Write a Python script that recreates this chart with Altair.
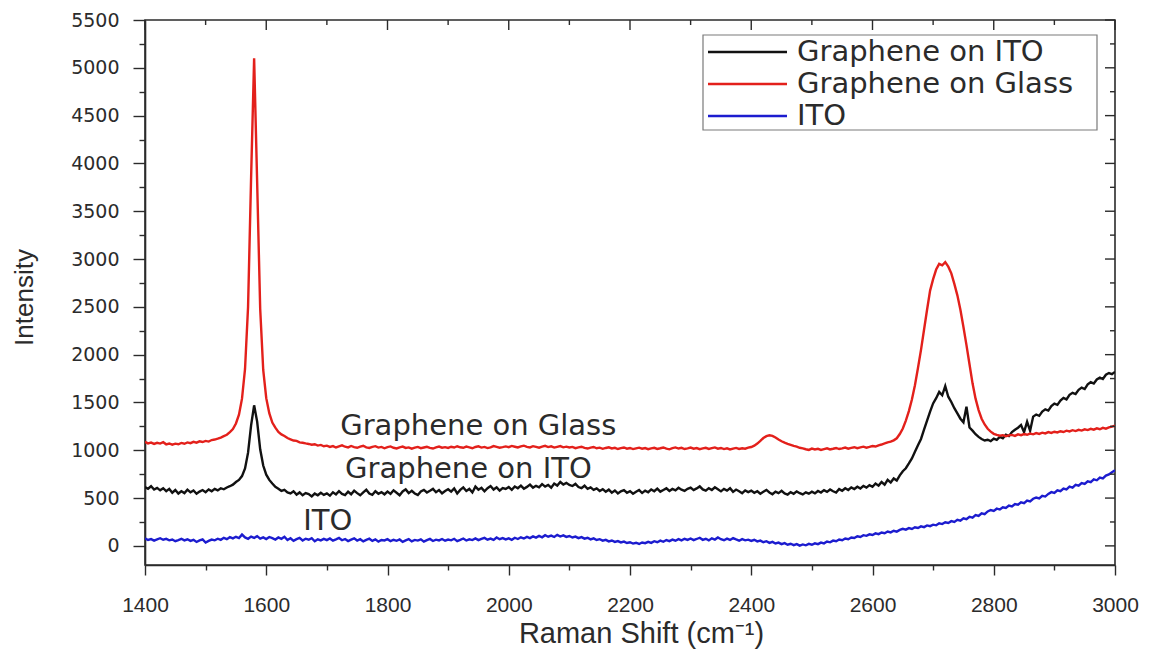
import altair as alt
import pandas as pd

# Raman shift grid (cm^-1), one reading every 5 cm^-1
raman_shift = list(range(1400, 3001, 5))

graphene_on_ito = (
    [615, 598, 624, 590, 607, 581, 603, 572, 596, 556, 584, 547, 571, 552, 588, 560, 579, 545, 568, 584]      # 1400
    + [562, 590, 571, 596, 580, 603, 592, 611, 624, 640, 668, 690, 730, 810, 975, 1260, 1470, 1300, 1010, 840]  # 1500
    + [745, 690, 652, 617, 598, 574, 586, 560, 548, 571, 536, 559, 529, 552, 541, 518, 547, 530, 556, 533]    # 1600
    + [549, 525, 561, 538, 572, 544, 531, 566, 540, 578, 552, 529, 560, 587, 548, 534, 571, 545, 562, 539]    # 1700
    + [568, 544, 581, 556, 530, 569, 591, 552, 575, 548, 533, 570, 586, 559, 577, 596, 561, 583, 550, 574]    # 1800
    + [592, 567, 601, 548, 585, 612, 574, 596, 559, 620, 588, 607, 571, 603, 626, 589, 612, 578, 604, 595]    # 1900
    + [615, 586, 621, 603, 630, 598, 617, 641, 609, 628, 612, 646, 620, 637, 608, 652, 631, 668, 642, 659]    # 2000
    + [637, 626, 648, 615, 603, 629, 596, 612, 585, 601, 574, 593, 566, 588, 557, 579, 548, 571, 583, 556]    # 2100
    + [572, 545, 566, 584, 553, 578, 561, 590, 572, 599, 567, 585, 602, 574, 596, 581, 608, 588, 575, 597]    # 2200
    + [610, 583, 601, 622, 590, 577, 604, 585, 612, 591, 570, 596, 578, 603, 565, 589, 572, 551, 580, 563]    # 2300
    + [578, 555, 571, 546, 566, 585, 559, 540, 568, 552, 575, 548, 537, 562, 545, 570, 551, 538, 560, 546]    # 2400
    + [566, 549, 574, 558, 583, 565, 590, 571, 557, 594, 577, 603, 585, 612, 595, 618, 600, 627, 609, 635]    # 2500
    + [618, 652, 630, 668, 641, 690, 662, 705, 683, 738, 781, 812, 862, 915, 984, 1052, 1118, 1215, 1310, 1405]  # 2600
    + [1490, 1545, 1610, 1575, 1672, 1560, 1505, 1440, 1385, 1330, 1292, 1455, 1238, 1205, 1168, 1140, 1118, 1102, 1110, 1095]  # 2700
    + [1122, 1108, 1139, 1126, 1162, 1148, 1190, 1214, 1236, 1265, 1190, 1298, 1205, 1352, 1374, 1360, 1405, 1428, 1415, 1462]  # 2800
    + [1488, 1475, 1520, 1548, 1532, 1580, 1601, 1588, 1632, 1655, 1640, 1690, 1712, 1698, 1741, 1760, 1745, 1790, 1808, 1796]  # 2900
    + [1820]
)

graphene_on_glass = (
    [1088, 1072, 1080, 1066, 1078, 1070, 1084, 1062, 1071, 1058, 1069, 1063, 1077, 1068, 1082, 1074, 1088, 1079, 1093, 1086]  # 1400
    + [1098, 1091, 1107, 1112, 1121, 1133, 1148, 1162, 1190, 1221, 1280, 1372, 1540, 1850, 2500, 3850, 5100, 3800, 2480, 1840]  # 1500
    + [1545, 1388, 1290, 1236, 1192, 1166, 1150, 1128, 1115, 1102, 1098, 1083, 1079, 1072, 1066, 1058, 1063, 1049, 1056, 1042]  # 1600
    + [1048, 1035, 1044, 1029, 1041, 1052, 1037, 1030, 1045, 1033, 1026, 1039, 1047, 1031, 1024, 1036, 1043, 1028, 1035, 1021]  # 1700
    + [1033, 1040, 1026, 1019, 1031, 1038, 1024, 1030, 1017, 1027, 1035, 1022, 1029, 1036, 1025, 1018, 1030, 1039, 1027, 1033]  # 1800
    + [1024, 1037, 1029, 1042, 1031, 1026, 1038, 1030, 1021, 1034, 1041, 1028, 1035, 1023, 1031, 1044, 1036, 1027, 1033, 1040]  # 1900
    + [1032, 1045, 1037, 1029, 1041, 1048, 1036, 1030, 1043, 1035, 1027, 1039, 1046, 1033, 1041, 1028, 1036, 1044, 1031, 1038]  # 2000
    + [1029, 1035, 1022, 1030, 1037, 1025, 1018, 1028, 1034, 1021, 1027, 1015, 1024, 1031, 1019, 1026, 1013, 1022, 1029, 1017]  # 2100
    + [1024, 1012, 1020, 1027, 1016, 1023, 1011, 1019, 1026, 1014, 1021, 1029, 1017, 1010, 1022, 1030, 1018, 1025, 1013, 1020]  # 2200
    + [1028, 1016, 1023, 1011, 1019, 1026, 1014, 1022, 1030, 1017, 1024, 1012, 1020, 1009, 1018, 1025, 1014, 1021, 1016, 1027]  # 2300
    + [1034, 1048, 1070, 1098, 1128, 1148, 1156, 1150, 1133, 1112, 1094, 1080, 1068, 1057, 1045, 1038, 1026, 1020, 1011, 1004]  # 2400
    + [1018, 1008, 1015, 1003, 1012, 1021, 1009, 1016, 1024, 1013, 1020, 1028, 1017, 1025, 1032, 1022, 1030, 1038, 1027, 1035]  # 2500
    + [1044, 1039, 1052, 1060, 1071, 1083, 1090, 1104, 1125, 1170, 1228, 1310, 1410, 1530, 1680, 1860, 2050, 2260, 2470, 2670]  # 2600
    + [2790, 2890, 2950, 2935, 2968, 2920, 2850, 2740, 2620, 2470, 2290, 2100, 1900, 1700, 1540, 1420, 1330, 1270, 1225, 1195]  # 2700
    + [1172, 1160, 1152, 1158, 1147, 1155, 1161, 1150, 1166, 1158, 1170, 1162, 1175, 1167, 1180, 1171, 1184, 1176, 1190, 1181]  # 2800
    + [1194, 1186, 1199, 1191, 1205, 1197, 1210, 1201, 1214, 1206, 1219, 1211, 1224, 1215, 1229, 1220, 1235, 1226, 1240, 1248]  # 2900
    + [1256]
)

ito = (
    [78, 62, 71, 55, 68, 80, 64, 73, 58, 66, 49, 61, 74, 57, 69, 52, 63, 41, 58, 67]              # 1400
    + [35, 52, 66, 58, 75, 63, 84, 70, 91, 78, 95, 82, 118, 88, 74, 97, 83, 102, 76, 89]          # 1500
    + [71, 93, 80, 66, 88, 74, 95, 61, 79, 52, 70, 83, 57, 75, 64, 81, 48, 69, 58, 73]            # 1600
    + [60, 77, 54, 68, 83, 59, 72, 50, 66, 79, 56, 70, 47, 63, 75, 52, 68, 44, 61, 57]            # 1700
    + [70, 49, 64, 53, 67, 42, 58, 71, 47, 62, 55, 69, 44, 60, 73, 51, 65, 57, 72, 54]            # 1800
    + [66, 58, 74, 50, 63, 77, 56, 69, 61, 78, 60, 72, 84, 65, 76, 62, 88, 70, 81, 67]            # 1900
    + [79, 64, 85, 72, 90, 77, 94, 81, 99, 86, 104, 90, 112, 96, 108, 93, 115, 98, 110, 94]       # 2000
    + [103, 88, 97, 81, 92, 76, 85, 68, 79, 62, 70, 55, 63, 47, 56, 41, 50, 36, 45, 30]           # 2100
    + [38, 24, 33, 20, 35, 28, 42, 31, 49, 38, 55, 43, 61, 50, 66, 54, 70, 58, 74, 62]            # 2200
    + [77, 60, 72, 85, 63, 74, 57, 79, 66, 88, 70, 59, 76, 62, 81, 67, 54, 71, 58, 65]            # 2300
    + [52, 64, 47, 55, 38, 49, 31, 42, 25, 34, 18, 29, 12, 22, 8, 19, 3, 15, 6, 21]               # 2400
    + [12, 27, 18, 34, 26, 45, 37, 55, 48, 66, 59, 77, 70, 88, 82, 101, 93, 112, 105, 121]        # 2500
    + [114, 131, 123, 140, 132, 150, 141, 158, 149, 167, 178, 170, 186, 177, 195, 187, 204, 196, 214, 206]  # 2600
    + [222, 215, 236, 228, 247, 240, 259, 251, 272, 264, 288, 279, 305, 296, 322, 313, 341, 332, 360, 375]  # 2700
    + [366, 389, 380, 404, 396, 421, 412, 438, 430, 455, 447, 474, 466, 493, 505, 497, 524, 516, 543, 562]  # 2800
    + [553, 581, 572, 600, 591, 619, 610, 638, 629, 657, 648, 676, 667, 695, 686, 714, 706, 735, 748, 771]  # 2900
    + [790]
)

series_names = ["Graphene on ITO", "Graphene on Glass", "ITO"]
series_colors = ["#111111", "#e3201b", "#1c1ccf"]

# labels written next to the curves
label_text = ["Graphene on Glass", "Graphene on ITO", "ITO"]
label_shift = [1722, 1730, 1661]
label_intensity = [1258, 807, 262]

x_ticks = list(range(1400, 3001, 100))
y_ticks = list(range(0, 5501, 250))

W, H = 970, 545
INK = "#2b2b2b"

X = alt.X(
    "shift:Q",
    scale=alt.Scale(domain=[1400, 3000], nice=False, zero=False),
    axis=alt.Axis(
        values=x_ticks, format="d",
        labelExpr="datum.value % 200 === 0 ? datum.label : ''",
        tickSize={"condition": {"test": "datum.value % 200 === 0", "value": 10}, "value": 5},
        labelPadding=19, labelFont="Liberation Sans", labelFontSize=21,
        title="Raman Shift (cm⁻¹)", titleFont="Liberation Sans", titleFontSize=29,
        titleFontWeight="normal", titleX=496, titleY=68,
        titleBaseline="middle", titleAlign="center",
    ),
)
Y = alt.Y(
    "intensity:Q",
    scale=alt.Scale(domain=[-200, 5500], nice=False, zero=False),
    axis=alt.Axis(
        values=y_ticks, format="d",
        labelExpr="datum.value % 500 === 0 ? datum.label : ''",
        tickSize={"condition": {"test": "datum.value % 500 === 0", "value": 12}, "value": 6},
        labelPadding=14, labelFont="DejaVu Sans", labelFontSize=19,
        title="Intensity", titleFont="Liberation Sans", titleFontSize=26,
        titleFontWeight="normal", titleX=-121, titleY=277,
        titleBaseline="middle", titleAlign="center", titleAngle=270,
    ),
)


def spectrum(values, color):
    df = pd.DataFrame({"shift": raman_shift, "intensity": values})
    return alt.Chart(df).mark_line(color=color, strokeWidth=2.4, clip=True).encode(x=X, y=Y)


lines = [
    spectrum(graphene_on_ito, series_colors[0]),
    spectrum(graphene_on_glass, series_colors[1]),
    spectrum(ito, series_colors[2]),
]

labels = alt.Chart(
    pd.DataFrame({"shift": label_shift, "intensity": label_intensity, "label": label_text})
).mark_text(align="left", baseline="middle", font="DejaVu Sans", fontSize=29, color=INK).encode(
    x=X, y=Y, text="label:N"
)

# mirrored ticks on the top and right edges of the frame, pointing inward
top_major = alt.Chart(pd.DataFrame({"shift": [v for v in x_ticks if v % 200 == 0]})).mark_rule(
    color=INK, strokeWidth=1.4
).encode(x=X, y=alt.value(0), y2=alt.value(10))
top_minor = alt.Chart(pd.DataFrame({"shift": [v for v in x_ticks if v % 200 != 0]})).mark_rule(
    color=INK, strokeWidth=1.4
).encode(x=X, y=alt.value(0), y2=alt.value(5))
right_major = alt.Chart(pd.DataFrame({"intensity": [v for v in y_ticks if v % 500 == 0]})).mark_rule(
    color=INK, strokeWidth=1.4
).encode(y=Y, x=alt.value(W), x2=alt.value(W - 10))
right_minor = alt.Chart(pd.DataFrame({"intensity": [v for v in y_ticks if v % 500 != 0]})).mark_rule(
    color=INK, strokeWidth=1.4
).encode(y=Y, x=alt.value(W), x2=alt.value(W - 5))

# legend box in the upper right corner
legend_df = pd.DataFrame({"series": series_names})
legend_box = alt.Chart(legend_df.head(1)).mark_rect(
    fill="white", stroke="#7a7a7a", strokeWidth=1.2
).encode(x=alt.value(558), x2=alt.value(952), y=alt.value(15), y2=alt.value(110))

legend_rows = []
for i, (name, color) in enumerate(zip(series_names, series_colors)):
    row_y = 32 + 32 * i
    one = legend_df.iloc[[i]]
    legend_rows.append(
        alt.Chart(one).mark_rule(color=color, strokeWidth=2.4).encode(
            x=alt.value(563), x2=alt.value(642), y=alt.value(row_y)
        )
    )
    legend_rows.append(
        alt.Chart(one).mark_text(
            align="left", baseline="middle", font="DejaVu Sans", fontSize=29, color=INK
        ).encode(x=alt.value(652), y=alt.value(row_y), text="series:N")
    )

chart = (
    alt.layer(*lines, labels, top_major, top_minor, right_major, right_minor, legend_box, *legend_rows)
    .properties(
        width=W, height=H,
        autosize=alt.AutoSizeParams(type="none"),
        padding={"left": 145, "top": 20, "right": 35, "bottom": 85},
        background="white",
    )
    .configure_view(stroke=INK, strokeWidth=1.6)
    .configure_axis(
        grid=False, domainColor=INK, domainWidth=1.6, tickColor=INK, tickWidth=1.4,
        labelColor=INK, titleColor=INK, labelOverlap=False, labelFlush=False,
    )
)

chart.save("out.html", embed_options={"renderer": "svg", "actions": False})
